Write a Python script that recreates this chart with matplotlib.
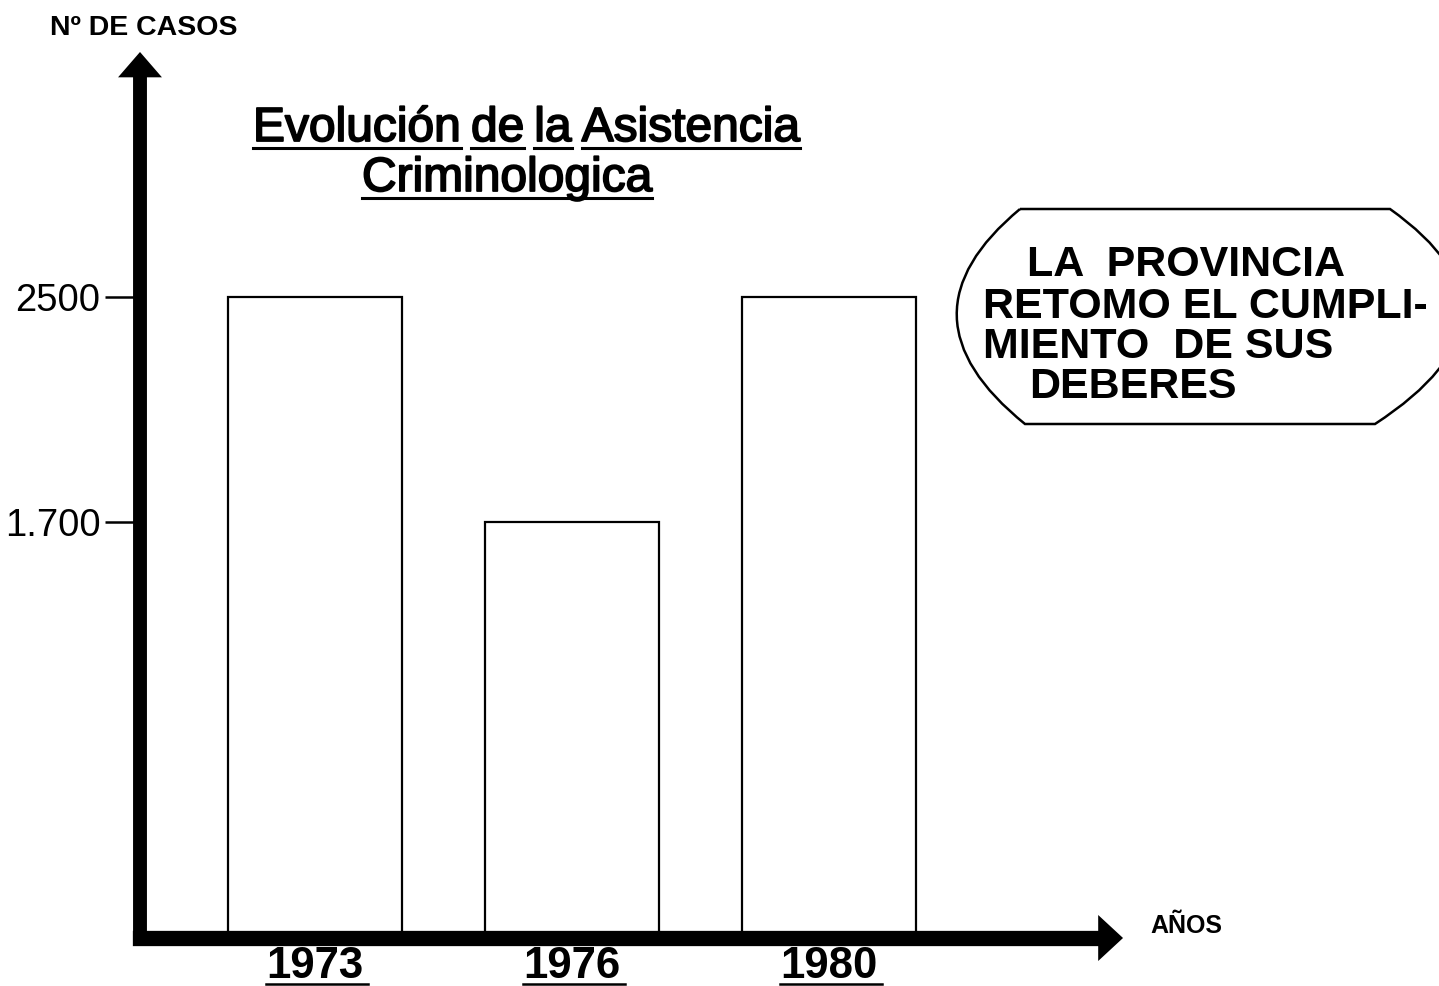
import matplotlib
matplotlib.use('Agg')
import matplotlib.pyplot as plt
import matplotlib.patheffects as pe
from matplotlib.path import Path
from matplotlib.patches import PathPatch, Polygon
from matplotlib.lines import Line2D

# data
years = ['1973', '1976', '1980']
casos = [2500, 1700, 2500]
ytick_vals = [1700, 2500]
ytick_labels = ['1.700', '2500']
title_lines = [['Evolución', 'de', 'la', 'Asistencia'], ['Criminologica']]
note_lines = ['LA  PROVINCIA', 'RETOMO EL CUMPLI-', 'MIENTO  DE SUS', 'DEBERES']

W, H = 1439, 986
plt.rcParams['font.family'] = ['Liberation Sans', 'DejaVu Sans']

fig = plt.figure(figsize=(W / 100, H / 100), dpi=100)


# pixel (from top-left) -> figure fraction
def fx(x):
    return x / W


def fy(y):
    return 1 - y / H


ax = fig.add_axes([fx(140), fy(938), (1103 - 140) / W, (938 - 73) / H])
pos = list(range(len(years)))
ax.bar(pos, casos, width=0.68, color='white', edgecolor='black', linewidth=1.6, zorder=1)
ax.set_xlim(-0.681, 3.066)
ax.set_ylim(220, 3297)
ax.set_yticks(ytick_vals, ytick_labels)
ax.set_xticks(pos, years)
ax.tick_params(axis='y', direction='out', length=25, width=1.8, pad=3.5, labelsize=27.5)
ax.tick_params(axis='x', length=0, pad=6, labelsize=31.5)
for lbl in ax.get_xticklabels():
    lbl.set_fontweight('bold')

for side in ['top', 'right']:
    ax.spines[side].set_visible(False)
ax.spines['left'].set_linewidth(10)
ax.spines['bottom'].set_linewidth(11)
for side in ['left', 'bottom']:
    ax.spines[side].set_capstyle('projecting')
    ax.spines[side].set_zorder(3)

# arrow heads at the end of both axes
ax.add_patch(Polygon([(-0.0228, 0.995), (0.0228, 0.995), (0, 1.0243)], closed=True,
                     transform=ax.transAxes, clip_on=False, color='black', lw=0, zorder=4))
ax.add_patch(Polygon([(0.995, -0.0266), (0.995, 0.0266), (1.0208, 0)], closed=True,
                     transform=ax.transAxes, clip_on=False, color='black', lw=0, zorder=4))

fig.text(fx(50), fy(35), 'Nº DE CASOS', fontsize=20.5, fontweight='bold', va='baseline')
fig.text(fx(1150), fy(933), 'AÑOS', fontsize=18, fontweight='bold', va='baseline')

# rounded note box on the right
verts = [(1020, 209), (1390, 209), (1541, 316), (1375, 424),
         (1025, 424), (891, 316), (1020, 209)]
codes = [Path.MOVETO, Path.LINETO, Path.CURVE3, Path.CURVE3,
         Path.LINETO, Path.CURVE3, Path.CURVE3]
box = PathPatch(Path([(fx(x), fy(y)) for x, y in verts], codes), facecolor='none',
                edgecolor='black', lw=1.8, transform=fig.transFigure)
fig.add_artist(box)

note_x = [1027, 983, 983, 1029]
note_y = [276, 318, 358, 398]
for txt, x, y in zip(note_lines, note_x, note_y):
    fig.text(fx(x), fy(y), txt, fontsize=31, fontweight='bold', va='baseline')

fig.canvas.draw()
renderer = fig.canvas.get_renderer()


def underline(x0, x1, y, lw=2.2):
    fig.add_artist(Line2D([x0 / W, x1 / W], [fy(y), fy(y)], color='black', lw=lw,
                          transform=fig.transFigure))


# title, underlined word by word
title_x = [253, 362]
title_base = [141, 191]
title_ul = [148, 198]
stroke = [pe.withStroke(linewidth=1.3, foreground='black')]
for words, x, yb, yu in zip(title_lines, title_x, title_base, title_ul):
    for w in words:
        t = fig.text(fx(x), fy(yb), w, fontsize=34.5, va='baseline', path_effects=stroke)
        bb = t.get_window_extent(renderer)
        underline(bb.x0, bb.x1, yu)
        x = bb.x1 + 10

# underlined year labels
for lbl in ax.get_xticklabels():
    bb = lbl.get_window_extent(renderer)
    underline(bb.x0, bb.x1 + 4, 984, lw=1.8)

fig.savefig('out.png', dpi=100)
